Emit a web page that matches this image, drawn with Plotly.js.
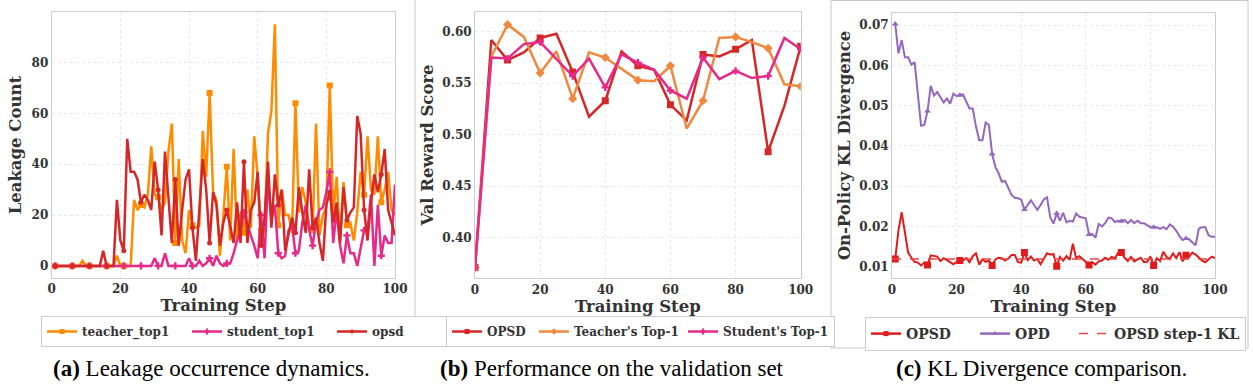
<!DOCTYPE html>
<html><head><meta charset="utf-8">
<script src="https://cdn.plot.ly/plotly-3.0.1.min.js"></script>
<style>html,body{margin:0;padding:0;background:#fff}#chart{width:1253px;height:388px}</style>
</head><body><div id="chart"></div>
<script>
// ---------- Panel (a): leakage counts ----------
const leakSteps = [1,2,3,4,5,6,7,8,9,10,11,12,13,14,15,16,17,18,19,20,21,22,23,24,25,26,27,28,29,30,31,32,33,34,35,36,37,38,39,40,41,42,43,44,45,46,47,48,49,50,51,52,53,54,55,56,57,58,59,60,61,62,63,64,65,66,67,68,69,70,71,72,73,74,75,76,77,78,79,80,81,82,83,84,85,86,87,88,89,90,91,92,93,94,95,96,97,98,99,100];
const teacherTop1 = [0,0,0,0,0,0,0,0,2,0, 0,0,0,0,0,0,0,0,4,0, 0,0,0,26,22,24,23,28,47,28, 27,22,25,45,56,9,42,10,5,22, 16,15,16,53,35,68,29,26,4,20, 39,10,46,10,21,13,30,15,51,35, 14,13,52,61,95,16,30,20,20,13, 64,21,31,25,16,14,56,12,20,23, 71,20,35,10,33,16,17,10,21,37, 28,51,30,28,51,25,30,37,22,20];
const studentTop1 = [0,0,0,0,0,0,0,0,0,0, 0,0,0,0,0,0,0,0,0,0, 0,0,0,0,0,0,0,0,0,3, 0,0,5,0,0,0,0,0,0,3, 0,0,2,0,1,3,0,4,1,0, 1,1,5,10,14,21,16,12,8,3, 20,3,34,18,24,5,3,4,14,16, 5,6,17,24,14,8,17,22,23,29, 37,9,22,8,1,12,5,5,0,7, 14,14,28,0,24,4,12,9,9,32];
const opsdLeak = [0,0,0,0,0,0,0,0,0,0, 0,0,0,0,6,0,0,0,26,10, 6,50,37,37,34,25,28,26,22,41, 30,12,45,25,9,34,8,22,34,38, 15,2,22,42,30,9,29,24,8,17, 22,15,9,25,9,41,9,22,25,37, 8,19,41,15,36,24,30,6,13,19, 13,31,21,13,38,15,19,9,2,24, 29,17,25,9,31,18,21,23,59,52, 22,10,25,36,29,36,46,22,17,12];
const leakNames = ['teacher_top1','student_top1','opsd'];

// ---------- Panel (b): validation reward ----------
const valSteps = [0,5,10,15,20,25,30,35,40,45,50,55,60,65,70,75,80,85,90,95,100];
const opsdVal = [0.371,0.592,0.5725,0.580,0.594,0.598,0.561,0.5175,0.533,0.581,0.567,0.563,0.529,0.514,0.578,0.576,0.583,0.592,0.4835,0.528,0.586];
const teacherVal = [0.371,0.576,0.607,0.595,0.560,0.581,0.535,0.580,0.575,0.564,0.553,0.552,0.567,0.506,0.533,0.594,0.595,0.590,0.584,0.549,0.547];
const studentVal = [0.371,0.575,0.574,0.588,0.590,0.574,0.557,0.574,0.546,0.578,0.570,0.563,0.543,0.535,0.575,0.554,0.562,0.555,0.557,0.594,0.583];
const valNames = ['OPSD',"Teacher's Top-1","Student's Top-1"];

// ---------- Panel (c): KL divergence ----------
const klSteps = leakSteps;
const opsdKL = [0.0119,0.0190,0.0235,0.0185,0.0135,0.0122,0.0112,0.0110,0.0103,0.0110, 0.0104,0.0128,0.0127,0.0125,0.0114,0.0121,0.0116,0.0111,0.0106,0.0112, 0.0115,0.0116,0.0121,0.0111,0.0126,0.0133,0.0105,0.0118,0.0112,0.0115, 0.0103,0.0118,0.0122,0.0121,0.0115,0.0120,0.0129,0.0129,0.0111,0.0110, 0.0135,0.0116,0.0125,0.0115,0.0119,0.0106,0.0118,0.0133,0.0130,0.0131, 0.0101,0.0124,0.0115,0.0126,0.0117,0.0157,0.0121,0.0126,0.0119,0.0112, 0.0104,0.0111,0.0105,0.0113,0.0115,0.0122,0.0117,0.0124,0.0121,0.0134, 0.0135,0.0122,0.0114,0.0124,0.0113,0.0118,0.0122,0.0111,0.0112,0.0125, 0.0103,0.0121,0.0114,0.0137,0.0124,0.0119,0.0133,0.0121,0.0136,0.0113, 0.0128,0.0125,0.0135,0.0130,0.0122,0.0115,0.0111,0.0118,0.0125,0.0121];
const opdKL = [0.0703,0.0630,0.0663,0.0620,0.0620,0.0602,0.0608,0.0530,0.0450,0.0452, 0.0487,0.0549,0.0525,0.0534,0.0522,0.0508,0.0518,0.0505,0.0530,0.0524, 0.0526,0.0528,0.0510,0.0493,0.0493,0.0448,0.0414,0.0414,0.0458,0.0452, 0.0380,0.0348,0.0332,0.0311,0.0313,0.0293,0.0278,0.0271,0.0270,0.0266, 0.0242,0.0253,0.0265,0.0253,0.0241,0.0253,0.0267,0.0272,0.0222,0.0207, 0.0232,0.0214,0.0234,0.0210,0.0214,0.0212,0.0232,0.0224,0.0222,0.0220, 0.0180,0.0181,0.0172,0.0206,0.0200,0.0208,0.0222,0.0220,0.0211,0.0214, 0.0213,0.0216,0.0208,0.0216,0.0208,0.0214,0.0208,0.0208,0.0203,0.0198, 0.0198,0.0198,0.0194,0.0198,0.0193,0.0205,0.0199,0.0189,0.0176,0.0166, 0.0170,0.0168,0.0160,0.0153,0.0194,0.0198,0.0198,0.0178,0.0174,0.0174];
const klNames = ['OPSD','OPD','OPSD step-1 KL'];

// ---------- helpers ----------
const every = (arr, n) => arr.filter((_, i) => i % n === 0);
const F = 'DejaVu Serif';
const traces = [];
function series(xs, ys, color, width, symbol, msize, n, xa, ya) {
  traces.push({x: xs, y: ys, mode: 'lines', line: {color, width}, xaxis: xa, yaxis: ya, showlegend: false, hoverinfo: 'skip'});
  traces.push({x: every(xs, n), y: every(ys, n), mode: 'markers', marker: {color, size: msize, symbol}, xaxis: xa, yaxis: ya, showlegend: false, hoverinfo: 'skip'});
}
function legendItem(name, color, width, symbol, msize, xa, ya, lg, lw, dash) {
  const t = {x: [null], y: [null], name, mode: symbol ? 'lines+markers' : 'lines', line: {color, width, dash: dash || 'solid'}, xaxis: xa, yaxis: ya, legend: lg, showlegend: true};
  if (symbol) t.marker = {color, size: msize, symbol};
  if (lw) t.legendwidth = lw;
  traces.push(t);
}

// panel a
const cA = ['#ff8c00', '#e7298a', '#d62728'];
series(leakSteps, teacherTop1, cA[0], 2.5, 'square', 6, 5, 'x', 'y');
series(leakSteps, studentTop1, cA[1], 2.5, 'cross', 6, 5, 'x', 'y');
series(leakSteps, opsdLeak, cA[2], 2.5, 'circle', 5, 5, 'x', 'y');
legendItem(leakNames[0], cA[0], 2.5, 'square', 5, 'x', 'y', 'legend');
legendItem(leakNames[1], cA[1], 2.5, 'cross', 5, 'x', 'y', 'legend');
legendItem(leakNames[2], cA[2], 2.5, 'circle', 4, 'x', 'y', 'legend');

// panel b
const cB = ['#d62728', '#f0883e', '#e7298a'];
series(valSteps, opsdVal, cB[0], 2.5, 'square', 7, 2, 'x2', 'y2');
series(valSteps, teacherVal, cB[1], 2.5, 'diamond', 7, 2, 'x2', 'y2');
series(valSteps, studentVal, cB[2], 2.5, 'cross', 6, 2, 'x2', 'y2');
legendItem(valNames[0], cB[0], 2.5, 'square', 5, 'x2', 'y2', 'legend2', 42);
legendItem(valNames[1], cB[1], 2.5, 'diamond', 5, 'x2', 'y2', 'legend2', 104);
legendItem(valNames[2], cB[2], 2.5, 'cross', 5, 'x2', 'y2', 'legend2');

// panel c
const cC = ['#e31a1c', '#9467bd'];
series(klSteps, opsdKL, cC[0], 2, 'square', 7, 10, 'x3', 'y3');
series(klSteps, opdKL, cC[1], 2, 'triangle-up', 6, 10, 'x3', 'y3');
const step1 = opsdKL[0];
traces.push({x: [0, 100], y: [step1, step1], mode: 'lines', line: {color: '#e84545', width: 1.5, dash: 'dash'}, xaxis: 'x3', yaxis: 'y3', showlegend: false, hoverinfo: 'skip'});
legendItem(klNames[0], cC[0], 2.5, 'square', 5, 'x3', 'y3', 'legend3', 64);
legendItem(klNames[1], cC[1], 2.5, 'triangle-up', 5, 'x3', 'y3', 'legend3', 54);
legendItem(klNames[2], '#e84545', 1.5, null, 0, 'x3', 'y3', 'legend3', null, 'dash');

// ---------- layout ----------
const W = 1253, H = 388;
const px = v => v / W, py = v => 1 - v / H;
const tickFont = {family: F, size: 12, color: '#333', weight: 'bold'};
const titleFont = {family: F, size: 16.5, color: '#333', weight: 'bold'};
function ax(extra) {
  return Object.assign({showline: true, mirror: true, linecolor: '#cccccc', linewidth: 1, showgrid: true, gridcolor: '#e8e8e8', griddash: 'dot', gridwidth: 1, zeroline: false, ticks: '', tickfont: tickFont, fixedrange: true}, extra);
}
const xTitle = {text: 'Training Step', font: titleFont, standoff: 4};
const legFont = {family: F, size: 12, color: '#333', weight: 'bold'};
const legBase = {orientation: 'h', xanchor: 'left', yanchor: 'top', bordercolor: '#cccccc', borderwidth: 1, bgcolor: '#ffffff', font: legFont, tracegroupgap: 0};
const capFont = {family: 'Liberation Serif', size: 23, color: '#000'};

const layout = {
  width: W, height: H, margin: {l: 0, r: 0, t: 0, b: 0}, paper_bgcolor: '#fff', plot_bgcolor: '#fff',
  xaxis: ax({domain: [px(51.7), px(395)], range: [0, 100], tickvals: [0, 20, 40, 60, 80, 100], anchor: 'y', title: xTitle}),
  yaxis: ax({domain: [py(278), py(12.3)], range: [-4.75, 99.75], tickvals: [0, 20, 40, 60, 80], anchor: 'x', title: {text: 'Leakage Count', font: titleFont, standoff: 5}}),
  xaxis2: ax({domain: [px(475), px(800.7)], range: [0, 100], tickvals: [0, 20, 40, 60, 80, 100], anchor: 'y2', title: xTitle}),
  yaxis2: ax({domain: [py(278.3), py(11.7)], range: [0.3605, 0.6195], tickvals: [0.40, 0.45, 0.50, 0.55, 0.60], tickformat: '.2f', anchor: 'x2', title: {text: 'Val Reward Score', font: titleFont, standoff: 4}}),
  xaxis3: ax({domain: [px(892), px(1215)], range: [0, 100], tickvals: [0, 20, 40, 60, 80, 100], anchor: 'y3', title: xTitle}),
  yaxis3: ax({domain: [py(278.3), py(12.7)], range: [0.0071, 0.0731], tickvals: [0.01, 0.02, 0.03, 0.04, 0.05, 0.06, 0.07], tickformat: '.2f', anchor: 'x3', title: {text: 'On-Policy KL Divergence', font: titleFont, standoff: 4}}),
  legend: Object.assign({}, legBase, {x: px(41), y: py(316), entrywidth: 100}),
  legend2: Object.assign({}, legBase, {x: px(446), y: py(316)}),
  legend3: Object.assign({}, legBase, {x: px(865), y: py(317), font: Object.assign({}, legFont, {size: 14})}),
  shapes: [
    {type: 'line', xref: 'paper', yref: 'paper', x0: px(415), x1: px(415), y0: py(345), y1: 1, line: {color: '#c8c8c8', width: 1}},
    {type: 'rect', xref: 'paper', yref: 'paper', x0: px(831), x1: px(1248), y0: py(348), y1: py(0.5), line: {color: '#c8c8c8', width: 1}}
  ],
  annotations: [
    {text: '<b>(a)</b> Leakage occurrence dynamics.', x: px(211), y: py(368), xref: 'paper', yref: 'paper', showarrow: false, xanchor: 'center', yanchor: 'middle', font: capFont},
    {text: '<b>(b)</b> Performance on the validation set', x: px(612), y: py(368), xref: 'paper', yref: 'paper', showarrow: false, xanchor: 'center', yanchor: 'middle', font: capFont},
    {text: '<b>(c)</b> KL Divergence comparison.', x: px(1041), y: py(368), xref: 'paper', yref: 'paper', showarrow: false, xanchor: 'center', yanchor: 'middle', font: capFont}
  ]
};
Plotly.newPlot('chart', traces, layout, {displayModeBar: false, staticPlot: true});
</script></body></html>
